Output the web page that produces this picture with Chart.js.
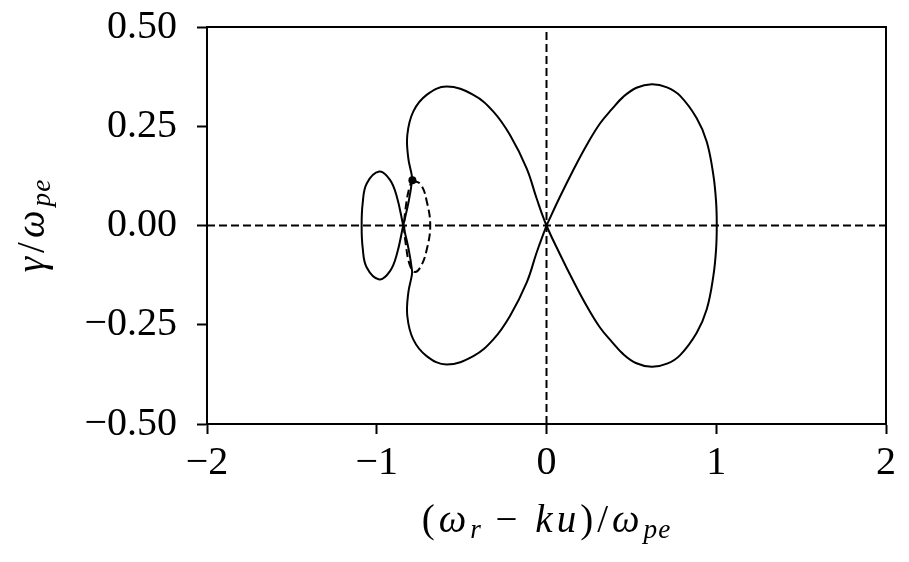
<!DOCTYPE html>
<html>
<head>
<meta charset="utf-8">
<script src="https://cdn.jsdelivr.net/npm/chart.js@4.4.1/dist/chart.umd.min.js"></script>
<style>
  html, body { margin: 0; padding: 0; background: #fff; }
  #wrap { width: 909px; height: 562px; }
</style>
</head>
<body>
<div id="wrap"><canvas id="c" width="909" height="562"></canvas></div>
<script>
// ---- data ----
// main solid branch, in pieces (drawing order: right lobe top, right lobe bottom,
// left lobe top, small loop, left lobe bottom)
const rightTopX = [0, 0.08, 0.158, 0.237, 0.315, 0.385, 0.452, 0.53, 0.62, 0.71, 0.786, 0.885, 0.944, 0.983, 0.999, 1.003];
const rightTopY = [0, 0.073, 0.140, 0.203, 0.257, 0.293, 0.324, 0.347, 0.356, 0.348, 0.327, 0.270, 0.211, 0.127, 0.060, 0];
const rightBotX = [0.999, 0.983, 0.944, 0.885, 0.786, 0.71, 0.62, 0.53, 0.452, 0.385, 0.315, 0.237, 0.158, 0.08];
const rightBotY = [-0.060, -0.127, -0.211, -0.270, -0.327, -0.348, -0.356, -0.347, -0.324, -0.293, -0.257, -0.203, -0.140, -0.073];
const leftTopX = [0, -0.058, -0.117, -0.215, -0.313, -0.431, -0.588, -0.706, -0.785, -0.820, -0.814, -0.794, -0.792, -0.812];
const leftTopY = [0, 0.068, 0.144, 0.228, 0.287, 0.329, 0.350, 0.329, 0.287, 0.228, 0.169, 0.127, 0.114, 0.060];
const loopX = [-0.844, -0.882, -0.922, -0.985, -1.059, -1.083, -1.089, -1.083, -1.059, -0.985, -0.922, -0.882, -0.844];
const loopY = [0, -0.073, -0.115, -0.136, -0.106, -0.056, 0, 0.056, 0.106, 0.136, 0.115, 0.073, 0];
const leftBotX = [-0.812, -0.792, -0.794, -0.814, -0.820, -0.785, -0.706, -0.588, -0.431, -0.313, -0.215, -0.117, -0.058, 0];
const leftBotY = [-0.060, -0.114, -0.127, -0.169, -0.228, -0.287, -0.329, -0.350, -0.329, -0.287, -0.228, -0.144, -0.068, 0];
// dashed small closed branch
const dashX = [-0.790, -0.740, -0.705, -0.685, -0.705, -0.740, -0.775, -0.805, -0.828, -0.838, -0.828, -0.808, -0.790];
const dashY = [0.114, 0.103, 0.060, 0, -0.060, -0.103, -0.117, -0.100, -0.050, 0, 0.050, 0.095, 0.114];
// marker point
const dotX = [-0.790];
const dotY = [0.114];
// dashed reference lines
const refVX = [0, 0];
const refVY = [-0.5, 0.5];
const refHX = [-2, 2];
const refHY = [0, 0];
// ticks
const xTicks = [-2, -1, 0, 1, 2];
const xTickLabels = ['\u22122', '\u22121', '0', '1', '2'];
const yTicks = [-0.5, -0.25, 0, 0.25, 0.5];
const yTickLabels = ['\u22120.50', '\u22120.25', '0.00', '0.25', '0.50'];
// axis titles (math pieces: text, italic, subscript)
const xTitleParts = [['(', 0, 0], ['\u03c9', 1, 0], ['r', 1, 1], [' \u2212 ', 0, 0], ['ku', 1, 0], [')/', 0, 0], ['\u03c9', 1, 0], ['pe', 1, 1]];
const yTitleParts = [['\u03b3', 1, 0], ['/', 0, 0], ['\u03c9', 1, 0], ['pe', 1, 1]];

const FONT = "'Liberation Serif', 'Times New Roman', serif";
const FS = 40;
const TFS = 39;

function pts(xs, ys) { return xs.map((x, i) => ({ x: x, y: ys[i] })); }
const mainPts = [].concat(pts(rightTopX, rightTopY), pts(rightBotX, rightBotY), pts(leftTopX, leftTopY),
                          pts(loopX, loopY), pts(leftBotX, leftBotY));

function drawMath(ctx, parts, cx, cy) {
  const sub = TFS * 0.7;
  const pieces = parts.map(p => {
    const size = p[2] ? sub : TFS;
    const f = (p[1] ? 'italic ' : '') + size + 'px ' + FONT;
    const ls = p[2] ? '1px' : '4px';
    ctx.font = f;
    ctx.letterSpacing = ls;
    return { t: p[0], f: f, ls: ls, w: ctx.measureText(p[0]).width, sub: p[2] };
  });
  const total = pieces.reduce((a, p) => a + p.w, 0);
  let x = cx - total / 2;
  ctx.textBaseline = 'alphabetic';
  ctx.textAlign = 'left';
  pieces.forEach(p => {
    ctx.font = p.f;
    ctx.letterSpacing = p.ls;
    ctx.fillText(p.t, x, cy + (p.sub ? TFS * 0.15 : 0));
    x += p.w;
  });
  ctx.letterSpacing = '0px';
}

const framePlugin = {
  id: 'frame',
  afterDraw(chart) {
    const ctx = chart.ctx;
    const a = chart.chartArea;
    ctx.save();
    ctx.strokeStyle = '#000';
    ctx.lineWidth = 2;
    ctx.strokeRect(a.left, a.top, a.right - a.left, a.bottom - a.top);
    ctx.fillStyle = '#000';
    drawMath(ctx, xTitleParts, (a.left + a.right) / 2, 532);
    ctx.translate(44, (a.top + a.bottom) / 2);
    ctx.rotate(-Math.PI / 2);
    drawMath(ctx, yTitleParts, 0, 0);
    ctx.restore();
  }
};

new Chart(document.getElementById('c'), {
  type: 'scatter',
  data: {
    datasets: [
      { data: pts(refVX, refVY), showLine: true, borderColor: '#000', borderWidth: 2, borderDash: [8, 4], pointRadius: 0, tension: 0 },
      { data: pts(refHX, refHY), showLine: true, borderColor: '#000', borderWidth: 2, borderDash: [8, 4], pointRadius: 0, tension: 0 },
      { data: mainPts, showLine: true, borderColor: '#000', borderWidth: 2, pointRadius: 0, tension: 0.4 },
      { data: pts(dashX, dashY), showLine: true, borderColor: '#000', borderWidth: 2, borderDash: [8, 4], pointRadius: 0, tension: 0.4 },
      { data: pts(dotX, dotY), showLine: false, pointRadius: 4, pointBackgroundColor: '#000', pointBorderColor: '#000', pointBorderWidth: 0 }
    ]
  },
  options: {
    responsive: false,
    animation: false,
    devicePixelRatio: 1,
    layout: { padding: { left: 0, right: 23, top: 27, bottom: 0 } },
    plugins: { legend: { display: false }, tooltip: { enabled: false } },
    scales: {
      x: {
        type: 'linear', min: -2, max: 2,
        afterBuildTicks: s => { s.ticks = xTicks.map(v => ({ value: v })); },
        afterFit: s => { s.height = 562 - 424; s.paddingLeft = 0; s.paddingRight = 0; },
        ticks: { callback: (v) => xTickLabels[xTicks.indexOf(v)], font: { family: FONT, size: FS }, color: '#000', padding: 5, maxRotation: 0 },
        grid: { display: true, drawOnChartArea: false, drawTicks: true, tickLength: 10, tickWidth: 2, tickColor: '#000' },
        border: { display: true, color: '#000', width: 2 }
      },
      y: {
        type: 'linear', min: -0.5, max: 0.5,
        afterBuildTicks: s => { s.ticks = yTicks.map(v => ({ value: v })); },
        afterFit: s => { s.width = 207; s.paddingTop = 0; s.paddingBottom = 0; },
        ticks: { callback: (v) => yTickLabels[yTicks.indexOf(v)], font: { family: FONT, size: FS }, color: '#000', padding: 20 },
        grid: { display: true, drawOnChartArea: false, drawTicks: true, tickLength: 10, tickWidth: 2, tickColor: '#000' },
        border: { display: true, color: '#000', width: 2 }
      }
    }
  },
  plugins: [framePlugin]
});
</script>
</body>
</html>
